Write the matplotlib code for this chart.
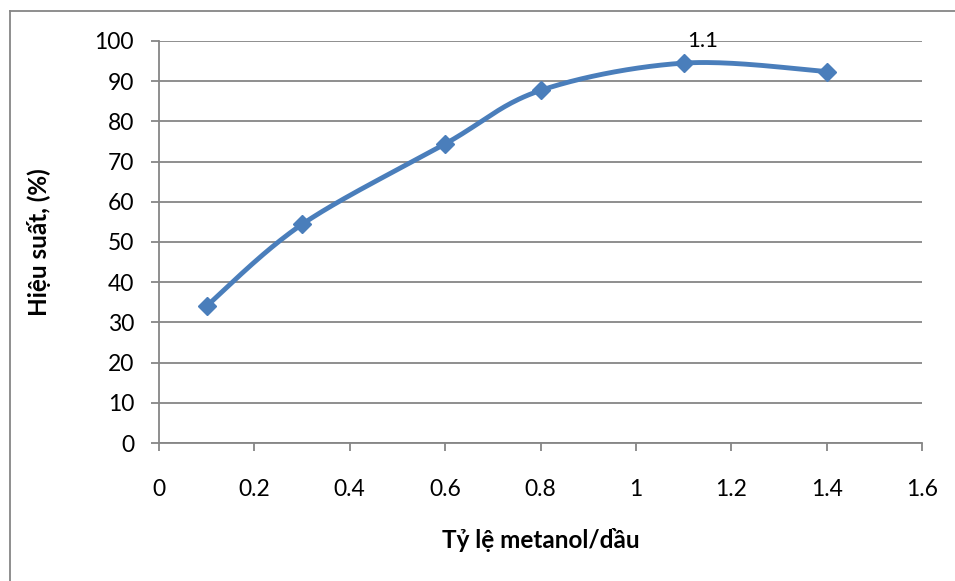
import numpy as np
import matplotlib
matplotlib.use("Agg")
import matplotlib.pyplot as plt
from matplotlib.lines import Line2D

x_vals = [0.1, 0.3, 0.6, 0.8, 1.1, 1.4]
y_vals = [34.1, 54.4, 74.4, 87.7, 94.5, 92.4]
point_label = "1.1"
label_index = 4
x_ticks = [0, 0.2, 0.4, 0.6, 0.8, 1, 1.2, 1.4, 1.6]
x_ticklabels = ["0", "0.2", "0.4", "0.6", "0.8", "1", "1.2", "1.4", "1.6"]
y_ticks = [0, 10, 20, 30, 40, 50, 60, 70, 80, 90, 100]
x_label = "Tỷ lệ metanol/dầu"
y_label = "Hiệu suất, (%)"

plt.rcParams['font.family'] = ['Lato', 'DejaVu Sans']

W, H = 955, 581
fig = plt.figure(figsize=(W/100, H/100), dpi=100)
ax = fig.add_axes([159/W, 1-443/H, (922-159)/W, (443-41)/H])

# smooth curve (Catmull-Rom / Bezier like Excel), computed in pixel-like space
xs = np.array(x_vals); ys = np.array(y_vals)
sx, sy = 1.6, 100.0
P = np.column_stack([xs/sx*763, ys/sy*402])
pts = []
n = len(P)
for i in range(n-1):
    p0 = P[i-1] if i > 0 else P[i]
    p1 = P[i]; p2 = P[i+1]
    p3 = P[i+2] if i+2 < n else P[i+1]
    c1 = p1 + (p2 - p0)/6
    c2 = p2 - (p3 - p1)/6
    t = np.linspace(0, 1, 40)[:, None]
    seg = (1-t)**3*p1 + 3*(1-t)**2*t*c1 + 3*(1-t)*t**2*c2 + t**3*p2
    pts.append(seg)
pts = np.vstack(pts)
ax.plot(pts[:, 0]/763*sx, pts[:, 1]/402*sy, color='#4A7EBB', lw=3.5, solid_capstyle='round', zorder=3)
ax.plot(xs, ys, linestyle='none', marker='D', markersize=9, color='#4A7EBB', zorder=4)

ax.annotate(point_label, (x_vals[label_index], y_vals[label_index]), xytext=(14, 16),
            textcoords='offset points', ha='center', va='center', fontsize=16, color='black')

ax.set_xlim(0, 1.6)
ax.set_ylim(0, 100)
ax.set_xticks(x_ticks)
ax.set_xticklabels(x_ticklabels)
ax.set_yticks(y_ticks)
ax.grid(axis='y', color='#868686', lw=1.3)
ax.set_axisbelow(True)
for s in ['top', 'right']:
    ax.spines[s].set_visible(False)
for s in ['left', 'bottom']:
    ax.spines[s].set_color('#868686')
    ax.spines[s].set_linewidth(1.3)
ax.tick_params(axis='both', colors='#868686', labelcolor='black', labelsize=16.5, length=6, width=1.3)
ax.tick_params(axis='x', pad=20)
ax.tick_params(axis='y', pad=12)

ax.set_xlabel(x_label, fontsize=17.5, fontweight='bold', labelpad=20)
ax.set_ylabel(y_label, fontsize=17.5, fontweight='bold', labelpad=31)

# outer chart frame
fig.add_artist(Line2D([10/W, 10/W], [0, 1-11/H], transform=fig.transFigure, color='#868686', lw=1.3))
fig.add_artist(Line2D([10/W, 1], [1-11/H, 1-11/H], transform=fig.transFigure, color='#868686', lw=1.3))

fig.savefig('out.png', dpi=100)
